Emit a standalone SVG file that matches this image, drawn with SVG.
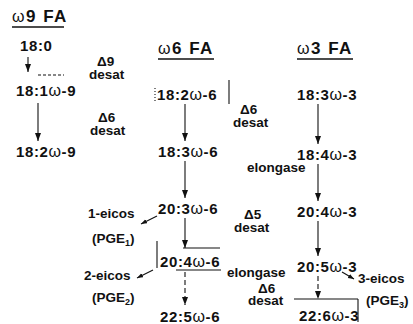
<svg xmlns="http://www.w3.org/2000/svg" width="413" height="324" viewBox="0 0 413 324">
  <defs>
    <marker id="ah" viewBox="0 0 8 8" refX="8" refY="4" markerWidth="8" markerHeight="8" markerUnits="userSpaceOnUse" orient="auto">
      <path d="M0,1 L8,4 L0,7 z" fill="#111"/>
    </marker>
    <marker id="ahs" viewBox="0 0 8 8" refX="8" refY="4" markerWidth="6" markerHeight="6" markerUnits="userSpaceOnUse" orient="auto">
      <path d="M0,1 L8,4 L0,7 z" fill="#111"/>
    </marker>
  </defs>
  <style>
    text { font-family: "Liberation Sans", Arial, sans-serif; font-weight: bold; fill: #111; }
    .nd { font-size: 15px; letter-spacing: 0.6px; }
    .w { font-weight: normal; font-size: 16px; }
    .hd { font-size: 17px; letter-spacing: 1.5px; }
    .lb { font-size: 13.5px; }
    .ln { stroke: #111; stroke-width: 1.1; fill: none; }
    .ar { marker-end: url(#ah); }
    .sa { marker-end: url(#ahs); }
    .ds { stroke-dasharray: 5 3; }
    .ul { stroke: #111; stroke-width: 1.3; }
  </style>

  <rect width="413" height="324" fill="#fff"/>

  <!-- column headers -->
  <g id="hdr-w9"><text class="hd" x="12" y="22"><tspan class="w">ω</tspan>9 FA</text><line class="ul" x1="12" y1="27" x2="64" y2="27"/></g>
  <g id="hdr-w6"><text class="hd" x="158" y="54"><tspan class="w">ω</tspan>6 FA</text><line class="ul" x1="158" y1="59" x2="214" y2="59"/></g>
  <g id="hdr-w3"><text class="hd" x="297" y="54"><tspan class="w">ω</tspan>3 FA</text><line class="ul" x1="297" y1="59" x2="353" y2="59"/></g>

  <!-- omega-9 series -->
  <g id="n-18-0"><text class="nd" x="20" y="51">18:0</text></g>
  <g id="n-18-1w9"><text class="nd" x="16" y="96">18:1<tspan class="w">ω</tspan>-9</text></g>
  <g id="n-18-2w9"><text class="nd" x="16" y="157">18:2<tspan class="w">ω</tspan>-9</text></g>

  <!-- omega-6 series -->
  <g id="n-18-2w6"><text class="nd" x="157" y="100">18:2<tspan class="w">ω</tspan>-6</text></g>
  <g id="n-18-3w6"><text class="nd" x="158" y="157">18:3<tspan class="w">ω</tspan>-6</text></g>
  <g id="n-20-3w6"><text class="nd" x="158" y="214">20:3<tspan class="w">ω</tspan>-6</text></g>
  <g id="n-20-4w6"><text class="nd" x="160" y="267">20:4<tspan class="w">ω</tspan>-6</text></g>
  <g id="n-22-5w6"><text class="nd" x="160" y="322">22:5<tspan class="w">ω</tspan>-6</text></g>

  <!-- omega-3 series -->
  <g id="n-18-3w3"><text class="nd" x="297" y="100">18:3<tspan class="w">ω</tspan>-3</text></g>
  <g id="n-18-4w3"><text class="nd" x="297" y="160">18:4<tspan class="w">ω</tspan>-3</text></g>
  <g id="n-20-4w3"><text class="nd" x="297" y="217">20:4<tspan class="w">ω</tspan>-3</text></g>
  <g id="n-20-5w3"><text class="nd" x="297" y="272">20:5<tspan class="w">ω</tspan>-3</text></g>
  <g id="n-22-6w3"><text class="nd" x="299" y="321">22:6<tspan class="w">ω</tspan>-3</text></g>

  <!-- eicosanoid products -->
  <g id="n-1-eicos"><text class="lb" x="88" y="218">1-eicos</text><text class="lb" x="92" y="243">(PGE<tspan font-size="9" dy="3">1</tspan><tspan dy="-3">)</tspan></text></g>
  <g id="n-2-eicos"><text class="lb" x="84" y="280">2-eicos</text><text class="lb" x="92" y="302">(PGE<tspan font-size="9" dy="3">2</tspan><tspan dy="-3">)</tspan></text></g>
  <g id="n-3-eicos"><text class="lb" x="358" y="283">3-eicos</text><text class="lb" x="366" y="305">(PGE<tspan font-size="9" dy="3">3</tspan><tspan dy="-3">)</tspan></text></g>

  <!-- enzyme labels -->
  <g id="enzymes">
    <text class="lb" x="97" y="66">Δ9</text><text class="lb" x="89" y="79">desat</text>
    <text class="lb" x="98" y="122">Δ6</text><text class="lb" x="90" y="135">desat</text>
    <text class="lb" x="240" y="114">Δ6</text><text class="lb" x="233" y="127">desat</text>
    <text class="lb" x="247" y="172">elongase</text>
    <text class="lb" x="244" y="219">Δ5</text><text class="lb" x="234" y="232">desat</text>
    <text class="lb" x="227" y="277">elongase</text>
    <text class="lb" x="258" y="293">Δ6</text><text class="lb" x="248" y="305">desat</text>
  </g>

  <!-- connectors -->
  <g id="connectors">
    <line class="ln ar" x1="28" y1="57" x2="28" y2="72"/>
    <line class="ln" x1="38" y1="75" x2="64" y2="75" stroke-dasharray="3 2" stroke="#555"/>
    <line class="ln ar" x1="38" y1="103" x2="38" y2="141"/>

    <line class="ln ar" x1="185" y1="104" x2="185" y2="141"/>
    <line class="ln ar" x1="185" y1="161" x2="185" y2="198"/>
    <line class="ln ar" x1="185" y1="218" x2="185" y2="248"/>
    <line class="ln ar ds" x1="185" y1="272" x2="185" y2="305"/>

    <line class="ln ar" x1="318" y1="104" x2="318" y2="144"/>
    <line class="ln ar" x1="318" y1="164" x2="318" y2="201"/>
    <line class="ln ar" x1="318" y1="221" x2="318" y2="256"/>
    <line class="ln ar ds" x1="318" y1="276" x2="318" y2="299"/>

    <line class="ln sa" x1="157" y1="216" x2="141" y2="224"/>
    <line class="ln sa" x1="153" y1="270" x2="137" y2="278"/>
    <line class="ln sa" x1="342" y1="272" x2="354" y2="279" stroke-width="2"/>

    <line class="ln" x1="229" y1="80" x2="229" y2="104"/>
    <line class="ln" x1="155" y1="88" x2="155" y2="101" stroke-dasharray="1 2"/>
    <line class="ln" x1="183" y1="248" x2="220" y2="248"/>
    <line class="ln" x1="157" y1="241" x2="157" y2="268"/>
    <line class="ln" x1="176" y1="270" x2="221" y2="270"/>
    <line class="ln" x1="294" y1="299" x2="358" y2="299"/>
    <line class="ln" x1="358" y1="299" x2="358" y2="322"/>
  </g>
</svg>
